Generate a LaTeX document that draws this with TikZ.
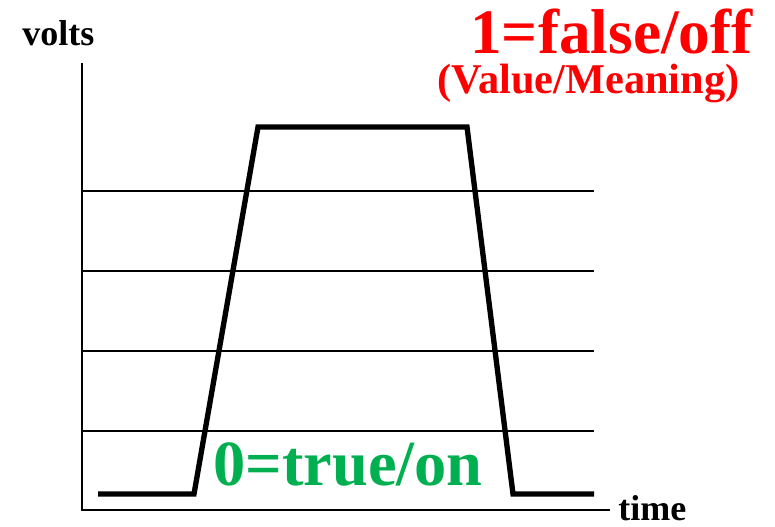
\documentclass[tikz,border=0pt]{standalone}
\usepackage{fontspec}
\setmainfont{Liberation Serif}
\usetikzlibrary{positioning}
\definecolor{logicRed}{RGB}{255, 0, 0}
\definecolor{logicGreen}{RGB}{0, 176, 80}

\begin{document}
\begin{tikzpicture}[
  x=0.75pt,y=-0.75pt,
  axis/.style={line width=1.8pt},
  gridline/.style={line width=1.3pt},
  signal/.style={line width=4pt,line join=miter},
  axislabel/.style={
    anchor=base west,
    inner sep=0pt,
    font=\fontsize{27}{30}\selectfont\bfseries
  },
  meaning/.style={anchor=base west,inner sep=0pt}
]
  \useasboundingbox (0,0) rectangle (775,526);
  % axes
  \coordinate (top) at (82,63);
  \coordinate (origin) at (82,510);
  \coordinate (right) at (610,510);
  \draw[axis] (top) -- (origin) -- (right);
  % levels
  \foreach \y in {191,271,351,431}
    \draw[gridline] (82,\y) -- (594,\y);
  % pulse
  \draw[signal] (98,494) -- (194,494) -- (258,127) -- (467,127)
    -- (513,494) -- (594,494);
  \node[axislabel] (volts) at (22,45) {volts};
  \node[axislabel] (time) at (618,520) {time};
  \node[meaning,text=logicRed,font=\fontsize{47.5}{50}\selectfont\bfseries]
    (high) at (470,53) {1=false/off};
  \node[meaning,text=logicRed,font=\fontsize{31.8}{34}\selectfont\bfseries]
    (legend) at (437,93) {(Value/Meaning)};
  \node[meaning,text=logicGreen,font=\fontsize{48.3}{50}\selectfont\bfseries]
    (low) at (213,485) {0=true/on};
\end{tikzpicture}
\end{document}
